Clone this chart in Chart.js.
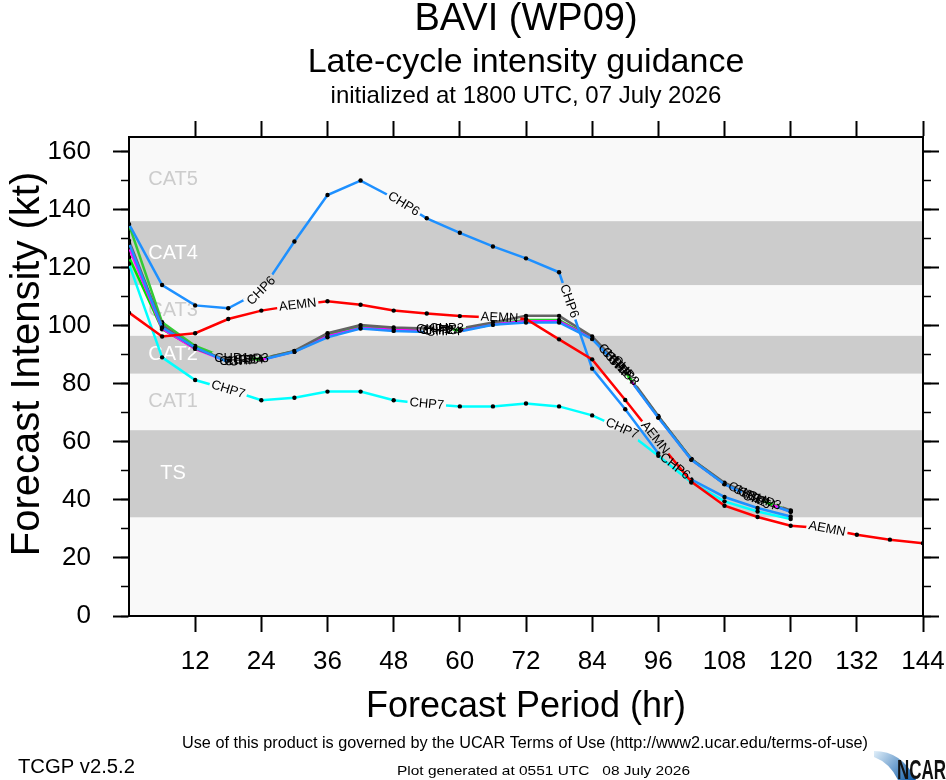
<!DOCTYPE html>
<html>
<head>
<meta charset="utf-8">
<title>BAVI (WP09) late-cycle intensity guidance</title>
<script src="https://cdn.jsdelivr.net/npm/chart.js@4.4.1/dist/chart.umd.min.js"></script>
<style>
  html, body { margin: 0; padding: 0; background: #fff; }
  #wrap { width: 946px; height: 780px; }
</style>
</head>
<body>
<div id="wrap"><canvas id="chart" width="946" height="780"></canvas></div>
<script>
const FONT = "'Liberation Sans', Arial, Helvetica, sans-serif";
const NARROW = "'Liberation Sans Narrow', 'Liberation Sans', Arial, sans-serif";
const LABEL_FONT = "13px " + FONT;

// forecast hours and axis ticks
const hours = [0, 6, 12, 18, 24, 30, 36, 42, 48, 54, 60, 66, 72, 78, 84, 90, 96, 102, 108, 114, 120, 126, 132, 138, 144];
const xTickValues = [12, 24, 36, 48, 60, 72, 84, 96, 108, 120, 132, 144];
const yTickValues = [0, 20, 40, 60, 80, 100, 120, 140, 160];
const yMinorValues = [0, 10, 20, 30, 40, 50, 60, 70, 80, 90, 100, 110, 120, 130, 140, 150, 160];

// intensity (kt) per model
const aemn = [104.5, 96.3, 97.4, 102.3, 105.2, 107, 108.4, 107.2, 105.2, 104.2, 103.3, 102.8, 102.3, 95.3, 88.4, 74.4, 60, 46.2, 38, 34.1, 31.1, 30.2, 28, 26.3, 25.1];
const chp6 = [135, 114, 107, 106, 112, 129, 145, 150, 144, 137, 132, 127.3, 123.2, 118.4, 85.2, 71.2, 56, 47, 41, 37.2, 34.3];
const chp7 = [121.3, 89.1, 81.3, 78, 74.3, 75.2, 77.3, 77.3, 74.3, 73, 72.2, 72.2, 73.2, 72.2, 69.1, 64, 55.2, 46, 39.5, 36, 33.4];
const chp4 = [128.5, 99.4, 92.5, 87.4, 88.2, 91, 96, 99, 98.2, 97.8, 98, 100.3, 101.1, 101.1, 95.4, 83.6, 68.3, 53.8, 45.4, 39.9, 35.9];
const chp3 = [129.3, 100.2, 92.2, 88, 88.6, 91.3, 97.4, 100.2, 99.4, 99, 99, 101.1, 103.4, 103.4, 96.3, 84.5, 68.9, 54.1, 45.9, 40.5, 36.4];
const chp5 = [127, 99, 92, 87.6, 88.3, 91.1, 96.4, 99.2, 98.6, 98.2, 98.3, 100.5, 101.5, 101.5, 95.6, 83.8, 68.5, 53.9, 45.5, 40, 36];
const chp2 = [123.6, 98.8, 92.3, 87.8, 88.4, 91.1, 96.6, 99.4, 98.8, 98.4, 98.4, 100.4, 101.6, 101.6, 95.7, 83.9, 68.6, 54, 45.5, 40.1, 36.1];
const chp1 = [134.8, 101.2, 93, 88.6, 88.6, 91.2, 97, 99.6, 99, 98.6, 98.6, 100.6, 102, 102, 95.8, 84, 68.6, 54, 45.6, 40.2, 36.2];

// first entry is drawn on top
const modelNames = ["AEMN", "CHP6", "CHP7", "CHP4", "CHP3", "CHP5", "CHP2", "CHP1"];
const modelValues = [aemn, chp6, chp7, chp4, chp3, chp5, chp2, chp1];
const modelColors = ["#ff0000", "#1e90ff", "#00ffff", "#1e90ff", "#646464", "#ff00ff", "#00e000", "#33cc33"];
// where each line carries its name (fractional point index)
const labelSpots = [
  [5.1, 11.2, 15.9, 21.1],
  [4, 8.3, 13.3, 16.5],
  [3, 9, 14.9],
  [3.55, 9.5, 14.9, 19.05],
  [3.7, 9.6, 15.0, 19.2],
  [3.4, 9.4, 14.8, 18.9],
  [3.25, 9.3, 14.7, 18.75],
  [3.1, 9.2, 14.6, 18.6]
];

// intensity category bands
const bandEdges = [34, 64, 83.5, 96.5, 114, 136, 165];
const bandNames = ["TS", "CAT1", "CAT2", "CAT3", "CAT4", "CAT5"];

function labelGeom(meta, pos) {
  const pts = meta.data;
  const i = Math.min(Math.floor(pos), pts.length - 2);
  const f = pos - i;
  const a = pts[i], b = pts[i + 1];
  const x = a.x + (b.x - a.x) * f;
  const y = a.y + (b.y - a.y) * f;
  let ang;
  if (f === 0 && i > 0) {
    const p = pts[i - 1];
    ang = Math.atan2(b.y - p.y, b.x - p.x);
  } else {
    ang = Math.atan2(b.y - a.y, b.x - a.x);
  }
  if (ang > Math.PI / 2) ang -= Math.PI;
  if (ang < -Math.PI / 2) ang += Math.PI;
  return { x, y, ang };
}

const bandPlugin = {
  id: "bands",
  beforeDraw(chart) {
    const { ctx, chartArea: a } = chart;
    const y = chart.scales.y, x = chart.scales.x;
    ctx.save();
    ctx.fillStyle = "#fff";
    ctx.fillRect(0, 0, chart.width, chart.height);
    ctx.fillStyle = "#f9f9f9";
    ctx.fillRect(a.left, a.top, a.width, a.height);
    ctx.font = "20px " + FONT;
    ctx.textAlign = "center";
    ctx.textBaseline = "middle";
    bandNames.forEach((nm, i) => {
      const top = y.getPixelForValue(bandEdges[i + 1]);
      const bot = y.getPixelForValue(bandEdges[i]);
      if (i % 2 === 0) {
        ctx.fillStyle = "#cccccc";
        ctx.fillRect(a.left, top, a.width, bot - top);
      }
      ctx.fillStyle = i % 2 === 0 ? "#ffffff" : "#cccccc";
      ctx.fillText(nm, x.getPixelForValue(8), (top + bot) / 2);
    });
    ctx.restore();
  }
};

const lineLabelPlugin = {
  id: "lineLabels",
  beforeDatasetDraw(chart, args) {
    const spots = labelSpots[args.index];
    if (!spots) return;
    const ctx = chart.ctx;
    ctx.save();
    ctx.font = LABEL_FONT;
    const hw = ctx.measureText(modelNames[args.index]).width / 2 + 2;
    const hh = 7;
    ctx.beginPath();
    ctx.rect(0, 0, chart.width, chart.height);
    spots.forEach(p => {
      const g = labelGeom(args.meta, p);
      const c = Math.cos(g.ang), s = Math.sin(g.ang);
      const corner = (dx, dy) => [g.x + dx * c - dy * s, g.y + dx * s + dy * c];
      const q = [corner(-hw, -hh), corner(hw, -hh), corner(hw, hh), corner(-hw, hh)];
      ctx.moveTo(q[0][0], q[0][1]);
      for (let k = 1; k < 4; k++) ctx.lineTo(q[k][0], q[k][1]);
      ctx.closePath();
    });
    ctx.clip("evenodd");
  },
  afterDatasetDraw(chart, args) {
    if (labelSpots[args.index]) chart.ctx.restore();
  },
  afterDatasetsDraw(chart) {
    const ctx = chart.ctx;
    ctx.save();
    ctx.font = LABEL_FONT;
    ctx.fillStyle = "#000";
    ctx.textAlign = "center";
    ctx.textBaseline = "middle";
    for (let i = chart.data.datasets.length - 1; i >= 0; i--) {
      const meta = chart.getDatasetMeta(i);
      (labelSpots[i] || []).forEach(p => {
        const g = labelGeom(meta, p);
        ctx.save();
        ctx.translate(g.x, g.y);
        ctx.rotate(g.ang);
        ctx.fillText(modelNames[i], 0, 0);
        ctx.restore();
      });
    }
    ctx.restore();
  }
};

function drawFitted(ctx, text, left, baseline, font, width) {
  ctx.font = font;
  const w = ctx.measureText(text).width;
  ctx.save();
  ctx.translate(left, baseline);
  ctx.scale(width / w, 1);
  ctx.textAlign = "left";
  ctx.textBaseline = "alphabetic";
  ctx.fillText(text, 0, 0);
  ctx.restore();
}

const textPlugin = {
  id: "pageText",
  afterDraw(chart) {
    const ctx = chart.ctx;
    const cx = (chart.chartArea.left + chart.chartArea.right) / 2;
    ctx.save();
    ctx.fillStyle = "#000";
    ctx.textAlign = "center";
    ctx.textBaseline = "alphabetic";
    ctx.font = "38px " + FONT;
    ctx.fillText("BAVI (WP09)", cx, 30);
    ctx.font = "34px " + FONT;
    ctx.fillText("Late-cycle intensity guidance", cx, 72);
    ctx.font = "24px " + FONT;
    ctx.fillText("initialized at 1800 UTC, 07 July 2026", cx, 103);

    // y axis title
    ctx.save();
    ctx.translate(28, 364);
    ctx.rotate(-Math.PI / 2);
    ctx.textBaseline = "middle";
    ctx.font = "40px " + FONT;
    ctx.fillText("Forecast Intensity (kt)", 0, 0);
    ctx.restore();

    drawFitted(ctx, "Use of this product is governed by the UCAR Terms of Use (http://www2.ucar.edu/terms-of-use)", 182, 748, "16px " + NARROW, 686);
    drawFitted(ctx, "TCGP v2.5.2", 18, 773, "20px " + NARROW, 117);
    drawFitted(ctx, "Plot generated at 0551 UTC   08 July 2026", 397, 775, "13px " + NARROW, 293);

    // NCAR logo
    const g = ctx.createLinearGradient(876, 750, 914, 780);
    g.addColorStop(0, "#dcecf8");
    g.addColorStop(1, "#0d5aa7");
    ctx.fillStyle = g;
    ctx.beginPath();
    ctx.moveTo(874, 751);
    ctx.quadraticCurveTo(902, 751, 916, 780);
    ctx.lineTo(898, 780);
    ctx.quadraticCurveTo(890, 763, 874, 757);
    ctx.closePath();
    ctx.fill();
    ctx.fillStyle = "#111";
    drawFitted(ctx, "NCAR", 897, 779, "bold 28px " + NARROW, 49);
    ctx.restore();
  }
};

const setTicks = values => axis => { axis.ticks = values.map(v => ({ value: v })); };
const tickGrid = len => ({ drawOnChartArea: false, drawTicks: true, tickLength: len, tickWidth: len > 10 ? 2 : 1.5, tickColor: "#000", color: "#000" });
const fixWidth = w => s => { s.width = w; s.paddingTop = 0; s.paddingBottom = 0; };
const fixHeight = h => s => { s.height = h; s.paddingLeft = 0; s.paddingRight = 0; };

new Chart(document.getElementById("chart"), {
  type: "line",
  data: {
    datasets: modelNames.map((name, i) => ({
      label: name,
      data: modelValues[i].map((v, j) => ({ x: hours[j], y: v })),
      borderColor: modelColors[i],
      backgroundColor: modelColors[i],
      borderWidth: 2.5,
      pointRadius: 2.2,
      pointBackgroundColor: "#000",
      pointBorderWidth: 0,
      tension: 0,
      fill: false,
      xAxisID: "x",
      yAxisID: "y"
    }))
  },
  options: {
    responsive: false,
    animation: false,
    devicePixelRatio: 1,
    layout: { padding: { top: 121, left: 0, right: 0, bottom: 0 } },
    plugins: { legend: { display: false }, tooltip: { enabled: false }, title: { display: false } },
    scales: {
      x: {
        type: "linear", position: "bottom", min: 0, max: 144, weight: 1,
        afterBuildTicks: setTicks(xTickValues),
        afterFit: fixHeight(164),
        grid: tickGrid(16),
        border: { display: true, color: "#000", width: 2 },
        ticks: { color: "#000", font: { family: FONT, size: 26 }, padding: 14, maxRotation: 0, autoSkip: false },
        title: { display: true, text: "Forecast Period (hr)", color: "#000", font: { family: FONT, size: 36 }, padding: { top: 0, bottom: 51 } }
      },
      xTop: {
        type: "linear", position: "top", min: 0, max: 144,
        afterBuildTicks: setTicks(xTickValues),
        afterFit: fixHeight(16),
        grid: tickGrid(16),
        border: { display: true, color: "#000", width: 2 },
        ticks: { display: false }
      },
      y: {
        type: "linear", position: "left", min: 0, max: 165, weight: 1,
        afterBuildTicks: setTicks(yTickValues),
        afterFit: fixWidth(129),
        grid: tickGrid(16),
        border: { display: true, color: "#000", width: 2 },
        ticks: { color: "#000", font: { family: FONT, size: 26 }, padding: 22, autoSkip: false }
      },
      yMinor: {
        type: "linear", position: "left", min: 0, max: 165, weight: 0,
        afterBuildTicks: setTicks(yMinorValues),
        afterFit: fixWidth(0),
        grid: tickGrid(8),
        border: { display: false },
        ticks: { display: false }
      },
      yRight: {
        type: "linear", position: "right", min: 0, max: 165, weight: 1,
        afterBuildTicks: setTicks(yTickValues),
        afterFit: fixWidth(23),
        grid: tickGrid(16),
        border: { display: true, color: "#000", width: 2 },
        ticks: { display: false }
      },
      yRightMinor: {
        type: "linear", position: "right", min: 0, max: 165, weight: 0,
        afterBuildTicks: setTicks(yMinorValues),
        afterFit: fixWidth(0),
        grid: tickGrid(8),
        border: { display: false },
        ticks: { display: false }
      }
    }
  },
  plugins: [bandPlugin, lineLabelPlugin, textPlugin]
});
</script>
</body>
</html>
